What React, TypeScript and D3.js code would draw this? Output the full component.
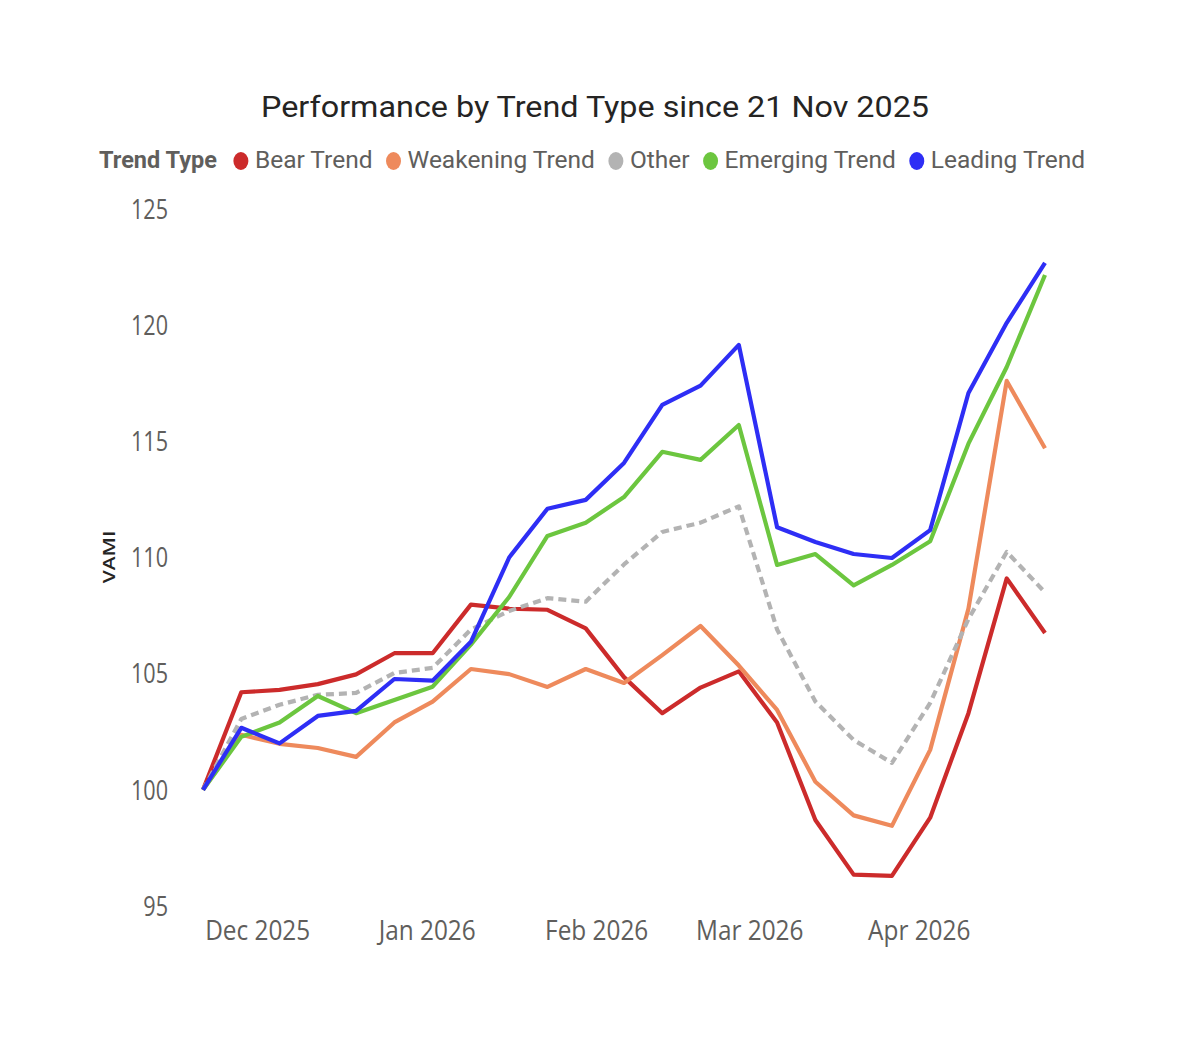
import {useEffect, useRef} from "react";
import * as d3 from "d3";

const SvgWidth = 1200;
const SvgHeight = 1051;

// weekly closes since 21 Nov 2025
const dates = [
    "2025-11-21", "2025-11-28", "2025-12-05", "2025-12-12", "2025-12-19", "2025-12-26",
    "2026-01-02", "2026-01-09", "2026-01-16", "2026-01-23", "2026-01-30", "2026-02-06",
    "2026-02-13", "2026-02-20", "2026-02-27", "2026-03-06", "2026-03-13", "2026-03-20",
    "2026-03-27", "2026-04-03", "2026-04-10", "2026-04-17", "2026-04-24"
];

const bearTrend = [100, 104.2, 104.3, 104.55, 104.97, 105.88, 105.88, 107.97, 107.8, 107.75, 106.95, 104.85, 103.3, 104.4, 105.1, 102.9, 98.7, 96.35, 96.3, 98.8, 103.3, 109.1, 106.75];
const weakeningTrend = [100, 102.37, 101.98, 101.8, 101.42, 102.9, 103.8, 105.2, 104.98, 104.43, 105.2, 104.6, 105.8, 107.05, 105.35, 103.44, 100.35, 98.9, 98.45, 101.72, 107.8, 117.6, 114.7];
const otherTrend = [100, 103.05, 103.66, 104.09, 104.17, 105.03, 105.25, 106.9, 107.7, 108.25, 108.1, 109.7, 111.1, 111.5, 112.2, 106.9, 103.8, 102.15, 101.16, 103.74, 107.35, 110.24, 108.5];
const emergingTrend = [100, 102.28, 102.9, 104.04, 103.3, 103.87, 104.44, 106.25, 108.3, 110.93, 111.5, 112.6, 114.55, 114.2, 115.7, 109.68, 110.15, 108.8, 109.68, 110.7, 114.9, 118.2, 122.16];
const leadingTrend = [100, 102.67, 102.0, 103.18, 103.4, 104.77, 104.7, 106.37, 110.0, 112.1, 112.48, 114.07, 116.57, 117.4, 119.15, 111.3, 110.67, 110.15, 109.98, 111.18, 117.08, 120.1, 122.68];

const seriesNames = ["Bear Trend", "Weakening Trend", "Other", "Emerging Trend", "Leading Trend"];
const seriesColors = ["#cc2b2b", "#ee8a5c", "#b3b3b3", "#6cc63f", "#2e2ef5"];
const seriesValues = [bearTrend, weakeningTrend, otherTrend, emergingTrend, leadingTrend];

const yTickValues = [95, 100, 105, 110, 115, 120, 125];
const xTickDates = ["2025-12-01", "2026-01-01", "2026-02-01", "2026-03-01", "2026-04-01"];

const textGray = "#605e5c";
const titleColor = "#252423";
const squeeze = 0.8; // the picture is a bit narrower than tall

function App(){
    const legendRef = useRef(null);

    const parse = d3.timeParse("%Y-%m-%d");
    const dateValues = dates.map(d => parse(d));

    const xScale = d3.scaleTime()
        .domain([dateValues[0], dateValues[dateValues.length - 1]])
        .range([203, 1045]);

    const yScale = d3.scaleLinear()
        .domain([95, 125])
        .range([906, 209]);

    const line = d3.line()
        // @ts-ignore
        .x(d => xScale(d.date))
        // @ts-ignore
        .y(d => yScale(d.value));

    const fmt = d3.timeFormat("%b %Y");

    useEffect(() => {
        // lay out the legend from the measured text widths
        let legendElm = d3.select(legendRef.current);
        legendElm.selectAll("*").remove();

        let x = 99;
        const baseline = 168;
        const header = legendElm.append("text")
            .attr("x", x)
            .attr("y", baseline)
            .attr("font-family", "Roboto, sans-serif")
            .attr("font-size", 23.5)
            .attr("font-weight", "bold")
            .attr("fill", textGray)
            .text("Trend Type");
        // @ts-ignore
        x += header.node().getComputedTextLength();

        seriesNames.forEach((name, i) => {
            x += i === 0 ? 24 : 21;
            legendElm.append("ellipse")
                .attr("cx", x)
                .attr("cy", 161)
                .attr("rx", 7.5)
                .attr("ry", 9)
                .attr("fill", seriesColors[i]);
            x += 14;
            const t = legendElm.append("text")
                .attr("x", x)
                .attr("y", baseline)
                .attr("font-family", "Roboto, sans-serif")
                .attr("font-size", 24.5)
                .attr("fill", textGray)
                .text(name);
            // @ts-ignore
            x += t.node().getComputedTextLength();
        });
    }, []);

    return (
        <svg width={SvgWidth} height={SvgHeight} style={{position: "absolute", left: 0, top: 0, background: "#fff"}}>
            <text
                x={595}
                y={117}
                textAnchor="middle"
                fontFamily="Roboto, sans-serif"
                fontSize={30}
                fill={titleColor}
                textLength={668}
                lengthAdjust="spacingAndGlyphs"
            >
                Performance by Trend Type since 21 Nov 2025
            </text>

            <g ref={legendRef}></g>

            {yTickValues.map(v => (
                <text
                    key={v}
                    transform={`translate(168, ${yScale(v)}) scale(${squeeze}, 1)`}
                    dy="0.36em"
                    textAnchor="end"
                    fontFamily="'Open Sans', sans-serif"
                    fontSize={27}
                    fill={textGray}
                >
                    {v}
                </text>
            ))}

            {xTickDates.map(d => (
                <text
                    key={d}
                    transform={`translate(${xScale(parse(d))}, 940) scale(0.87, 1)`}
                    textAnchor="middle"
                    fontFamily="'Open Sans', sans-serif"
                    fontSize={28}
                    fill={textGray}
                >
                    {fmt(parse(d))}
                </text>
            ))}

            <text
                transform={`translate(109, 557) scale(${squeeze}, 1) rotate(-90)`}
                dy="0.35em"
                textAnchor="middle"
                fontFamily="'Open Sans', sans-serif"
                fontSize={21}
                fontWeight={600}
                fill={titleColor}
            >
                VAMI
            </text>

            <g>
                {seriesValues.map((vals, i) => (
                    <path
                        key={seriesNames[i]}
                        // @ts-ignore
                        d={line(vals.map((v, j) => ({date: dateValues[j], value: v})))}
                        fill="none"
                        stroke={seriesColors[i]}
                        strokeWidth={4.2}
                        strokeLinejoin="round"
                        strokeDasharray={seriesNames[i] === "Other" ? "8,5" : undefined}
                    />
                ))}
            </g>
        </svg>
    )
}

export default App;
